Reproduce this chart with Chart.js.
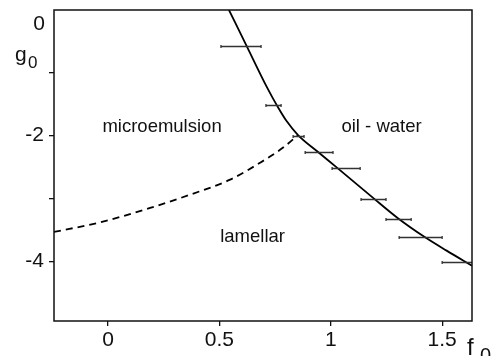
<!DOCTYPE html>
<html>
<head>
<meta charset="utf-8">
<script src="https://cdn.jsdelivr.net/npm/chart.js@4/dist/chart.umd.min.js"></script>
<style>
  html, body { margin: 0; padding: 0; background: #fff; }
  #wrap { width: 499px; height: 356px; position: relative; }
</style>
</head>
<body>
<div id="wrap"><canvas id="phase"></canvas></div>
<script>
// phase diagram g0 vs f0

const xTicks = [0, 0.5, 1, 1.5];
const xTickLabels = ['0', '0.5', '1', '1.5'];
const yTicks = [-1, -2, -3, -4];
const yTickLabels = ['', '-2', '', '-4'];
const yTopLabel = '0';

// solid line: microemulsion / oil-water boundary
const boundaryX = [0.543, 0.622, 0.715, 0.76, 0.80, 0.853, 0.943, 1.025, 1.19, 1.30, 1.42, 1.52, 1.634];
const boundaryY = [0, -0.57, -1.24, -1.53, -1.76, -1.99, -2.26, -2.50, -2.99, -3.31, -3.61, -3.83, -4.07];

// dashed line: lamellar boundary
const lamellarX = [-0.2425, -0.036, 0.189, 0.368, 0.548, 0.683, 0.786, 0.853];
const lamellarY = [-3.533, -3.38, -3.15, -2.94, -2.70, -2.43, -2.19, -1.99];

// measured points with horizontal error bars
const errY  = [-0.566, -1.507, -2.0, -2.26, -2.51, -3.01, -3.33, -3.61, -4.01];
const errLo = [0.507, 0.709, 0.831, 0.885, 1.006, 1.136, 1.248, 1.307, 1.500];
const errHi = [0.687, 0.777, 0.880, 1.010, 1.132, 1.248, 1.361, 1.500, 1.700];

const regionNames = ['microemulsion', 'oil - water', 'lamellar'];

const FONT = "'Liberation Sans', Arial, Helvetica, sans-serif";

const toPts = (xs, ys) => xs.map((x, i) => ({ x, y: ys[i] }));

const overlay = {
  id: 'overlay',
  afterDatasetsDraw(chart) {
    const { ctx, chartArea: a, scales: { x, y } } = chart;

    // error bars
    ctx.save();
    ctx.beginPath();
    ctx.rect(a.left, a.top, a.right - a.left, a.bottom - a.top);
    ctx.clip();
    ctx.strokeStyle = '#333';
    ctx.lineWidth = 1.3;
    errY.forEach((v, i) => {
      const py = Math.round(y.getPixelForValue(v)) + 0.5;
      const x1 = x.getPixelForValue(errLo[i]);
      const x2 = x.getPixelForValue(errHi[i]);
      ctx.beginPath();
      ctx.moveTo(x1, py); ctx.lineTo(x2, py);
      ctx.moveTo(x1, py - 1.5); ctx.lineTo(x1, py + 1.5);
      ctx.moveTo(x2, py - 1.5); ctx.lineTo(x2, py + 1.5);
      ctx.stroke();
    });
    ctx.restore();

    // frame
    ctx.save();
    ctx.strokeStyle = '#111';
    ctx.lineWidth = 1.5;
    ctx.strokeRect(a.left, a.top, a.right - a.left, a.bottom - a.top);
    ctx.restore();

    // region names
    ctx.save();
    ctx.fillStyle = '#111';
    ctx.font = `18.5px ${FONT}`;
    ctx.textAlign = 'center';
    ctx.textBaseline = 'middle';
    const spots = [[0.2425, -1.86], [1.228, -1.86], [0.649, -3.61]];
    regionNames.forEach((t, i) => {
      ctx.fillText(t, x.getPixelForValue(spots[i][0]), y.getPixelForValue(spots[i][1]));
    });

    // top "0" on y axis (sits a little below the frame corner)
    ctx.font = `21px ${FONT}`;
    ctx.textAlign = 'right';
    ctx.fillText(yTopLabel, a.left - 9, y.getPixelForValue(0) + 14);

    // axis titles g0 and f0
    ctx.textAlign = 'left';
    ctx.textBaseline = 'alphabetic';
    ctx.font = `21px ${FONT}`;
    ctx.fillText('g', 15, 61);
    ctx.font = `17px ${FONT}`;
    ctx.fillText('0', 28, 68);
    ctx.font = `24px ${FONT}`;
    ctx.fillText('f', 467, 355);
    ctx.font = `20px ${FONT}`;
    ctx.fillText('0', 480, 362);
    ctx.restore();
  }
};

new Chart(document.getElementById('phase'), {
  type: 'scatter',
  data: {
    datasets: [
      {
        label: 'boundary',
        data: toPts(boundaryX, boundaryY),
        showLine: true,
        borderColor: '#000',
        borderWidth: 1.8,
        pointRadius: 0,
        cubicInterpolationMode: 'monotone'
      },
      {
        label: 'lamellar',
        data: toPts(lamellarX, lamellarY),
        showLine: true,
        borderColor: '#000',
        borderWidth: 1.8,
        borderDash: [7, 5],
        pointRadius: 0,
        cubicInterpolationMode: 'monotone'
      }
    ]
  },
  options: {
    responsive: true,
    maintainAspectRatio: false,
    animation: false,
    layout: { padding: { top: 10, right: 27, left: 0, bottom: 0 } },
    plugins: { legend: { display: false }, tooltip: { enabled: false } },
    scales: {
      x: {
        type: 'linear',
        min: -0.2425,
        max: 1.634,
        afterBuildTicks: s => { s.ticks = xTicks.map(v => ({ value: v })); },
        afterFit: s => { s.height = 35; s.paddingLeft = 0; s.paddingRight = 0; },
        grid: { display: true, drawOnChartArea: false, drawTicks: true, tickLength: 5, tickColor: '#111', lineWidth: 1.3 },
        border: { display: false },
        ticks: {
          color: '#111',
          font: { family: FONT, size: 21 },
          padding: 2,
          maxRotation: 0,
          autoSkip: false,
          callback: v => xTickLabels[xTicks.indexOf(v)] ?? ''
        }
      },
      y: {
        type: 'linear',
        min: -4.95,
        max: 0,
        afterBuildTicks: s => { s.ticks = yTicks.map(v => ({ value: v })); },
        afterFit: s => { s.width = 54; s.paddingTop = 0; s.paddingBottom = 0; },
        grid: { display: true, drawOnChartArea: false, drawTicks: true, tickLength: 5, tickColor: '#111', lineWidth: 1.3 },
        border: { display: false },
        ticks: {
          color: '#111',
          font: { family: FONT, size: 21 },
          padding: 5,
          autoSkip: false,
          callback: v => yTickLabels[yTicks.indexOf(v)] ?? ''
        }
      }
    }
  },
  plugins: [overlay]
});
</script>
</body>
</html>
